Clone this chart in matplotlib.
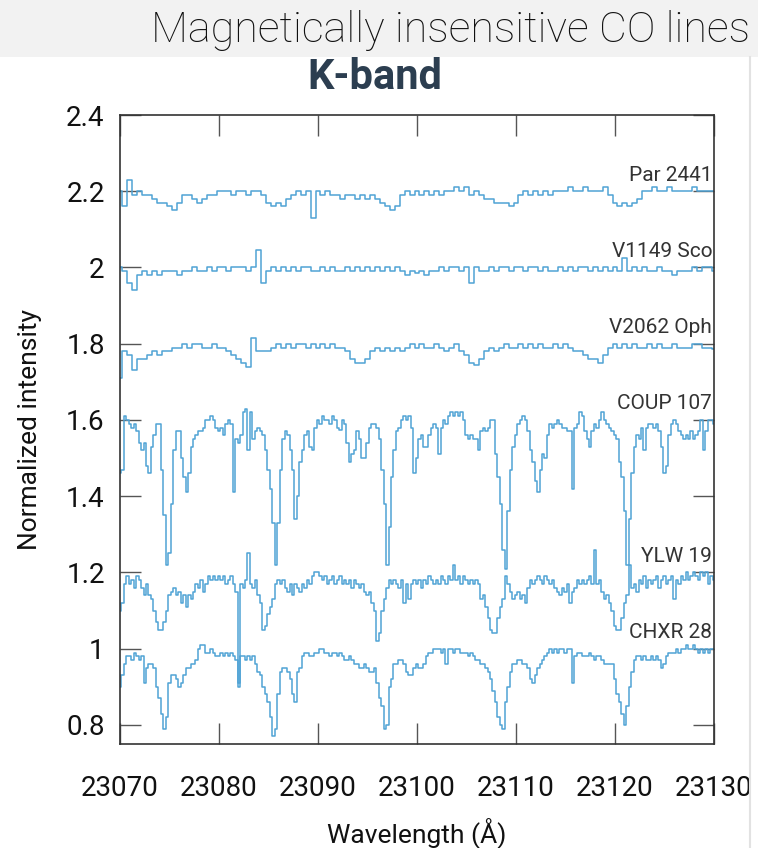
import numpy as np
import matplotlib
matplotlib.use('Agg')
import matplotlib.pyplot as plt
from matplotlib.lines import Line2D
from matplotlib.patches import Rectangle
from matplotlib.ticker import FuncFormatter

plt.rcParams['font.family'] = ['Roboto', 'DejaVu Sans']

# wavelength grids: 0.5 A for the weak-line stars, 0.25 A for the strong-line ones
wave_coarse = np.arange(23070.0, 23130.01, 0.5)
wave_fine = np.arange(23070.0, 23130.001, 0.25)

par_2441 = [
    2.20, 2.16, 2.23, 2.19, 2.20, 2.19, 2.19, 2.18, 2.17, 2.17,
    2.16, 2.15, 2.17, 2.19, 2.19, 2.18, 2.17, 2.18, 2.19, 2.19,
    2.20, 2.20, 2.20, 2.19, 2.20, 2.20, 2.19, 2.20, 2.20, 2.19,
    2.17, 2.16, 2.17, 2.16, 2.18, 2.19, 2.20, 2.19, 2.20, 2.13,
    2.20, 2.19, 2.20, 2.19, 2.19, 2.18, 2.19, 2.19, 2.18, 2.19,
    2.18, 2.19, 2.18, 2.17, 2.16, 2.15, 2.16, 2.19, 2.20, 2.19,
    2.20, 2.19, 2.20, 2.19, 2.20, 2.19, 2.20, 2.20, 2.21, 2.20,
    2.21, 2.19, 2.20, 2.19, 2.18, 2.18, 2.17, 2.17, 2.17, 2.16,
    2.17, 2.19, 2.20, 2.19, 2.20, 2.19, 2.20, 2.19, 2.20, 2.20,
    2.20, 2.21, 2.20, 2.20, 2.21, 2.20, 2.20, 2.20, 2.21, 2.19,
    2.17, 2.16, 2.17, 2.16, 2.17, 2.18, 2.20, 2.20, 2.21, 2.20,
    2.20, 2.21, 2.20, 2.20, 2.20, 2.20, 2.21, 2.20, 2.20, 2.20,
    2.20,
]

v1149_sco = [
    2.00, 1.99, 1.96, 1.94, 1.98, 1.99, 1.98, 1.99, 1.98, 1.99,
    1.99, 1.99, 1.98, 1.99, 1.99, 2.00, 1.99, 1.99, 2.00, 1.99,
    2.00, 2.00, 1.99, 2.00, 2.00, 2.00, 1.99, 2.00, 2.045, 1.96,
    1.99, 2.00, 1.99, 2.00, 1.99, 2.00, 1.99, 2.00, 2.00, 1.99,
    1.99, 2.00, 1.99, 2.00, 1.99, 1.99, 2.00, 1.99, 2.00, 1.99,
    2.00, 1.99, 2.00, 1.99, 2.00, 1.99, 2.00, 1.99, 1.98, 1.99,
    1.985, 1.99, 1.98, 1.99, 1.99, 2.00, 1.99, 2.00, 2.00, 1.99,
    2.00, 1.96, 2.00, 1.99, 1.99, 2.00, 1.99, 2.00, 2.00, 1.99,
    2.00, 2.00, 1.99, 2.00, 2.00, 1.99, 2.00, 1.99, 1.99, 2.00,
    1.99, 2.00, 1.99, 2.00, 2.00, 1.99, 2.00, 1.99, 2.00, 1.99,
    2.00, 1.99, 2.025, 1.99, 2.00, 1.99, 2.00, 1.99, 1.99, 2.00,
    1.99, 1.99, 1.98, 1.99, 1.99, 1.99, 2.00, 1.99, 2.00, 2.00,
    1.99,
]

v2062_oph = [
    1.71, 1.78, 1.77, 1.73, 1.76, 1.76, 1.77, 1.78, 1.77, 1.78,
    1.78, 1.79, 1.79, 1.80, 1.79, 1.80, 1.80, 1.79, 1.79, 1.80,
    1.79, 1.79, 1.78, 1.77, 1.76, 1.75, 1.74, 1.815, 1.78, 1.78,
    1.78, 1.79, 1.80, 1.79, 1.80, 1.79, 1.80, 1.80, 1.79, 1.80,
    1.79, 1.80, 1.79, 1.80, 1.79, 1.79, 1.78, 1.76, 1.75, 1.75,
    1.76, 1.78, 1.79, 1.78, 1.79, 1.78, 1.79, 1.78, 1.79, 1.80,
    1.79, 1.80, 1.79, 1.79, 1.80, 1.79, 1.78, 1.79, 1.80, 1.78,
    1.77, 1.75, 1.745, 1.76, 1.78, 1.79, 1.78, 1.79, 1.80, 1.79,
    1.79, 1.80, 1.79, 1.80, 1.79, 1.80, 1.79, 1.79, 1.80, 1.79,
    1.80, 1.79, 1.78, 1.78, 1.77, 1.76, 1.76, 1.75, 1.77, 1.79,
    1.80, 1.79, 1.80, 1.79, 1.80, 1.79, 1.79, 1.80, 1.79, 1.80,
    1.79, 1.79, 1.80, 1.79, 1.79, 1.79, 1.80, 1.80, 1.79, 1.79,
    1.785,
]

# one row = 2 A
coup_107 = [
    1.46, 1.47, 1.61, 1.60, 1.59, 1.58, 1.59, 1.57,
    1.54, 1.52, 1.54, 1.48, 1.46, 1.53, 1.56, 1.59,
    1.59, 1.47, 1.35, 1.22, 1.25, 1.38, 1.52, 1.57,
    1.57, 1.50, 1.45, 1.41, 1.46, 1.53, 1.55, 1.56,
    1.57, 1.57, 1.58, 1.60, 1.60, 1.61, 1.60, 1.58,
    1.57, 1.58, 1.56, 1.59, 1.60, 1.59, 1.41, 1.55,
    1.54, 1.56, 1.62, 1.63, 1.52, 1.62, 1.55, 1.57,
    1.58, 1.57, 1.56, 1.52, 1.47, 1.42, 1.33, 1.22,
    1.33, 1.47, 1.55, 1.57, 1.56, 1.52, 1.47, 1.34,
    1.40, 1.49, 1.52, 1.56, 1.57, 1.53, 1.52, 1.58,
    1.60, 1.59, 1.61, 1.60, 1.60, 1.59, 1.61, 1.60,
    1.58, 1.575, 1.60, 1.59, 1.54, 1.49, 1.51, 1.52,
    1.57, 1.55, 1.50, 1.50, 1.54, 1.58, 1.59, 1.59,
    1.58, 1.55, 1.47, 1.38, 1.22, 1.32, 1.45, 1.52,
    1.57, 1.58, 1.60, 1.61, 1.60, 1.61, 1.58, 1.46,
    1.50, 1.55, 1.56, 1.53, 1.53, 1.56, 1.58, 1.59,
    1.58, 1.51, 1.58, 1.60, 1.59, 1.61, 1.62, 1.61,
    1.62, 1.61, 1.62, 1.60, 1.56, 1.55, 1.56, 1.55,
    1.55, 1.52, 1.57, 1.58, 1.57, 1.58, 1.60, 1.60,
    1.51, 1.45, 1.38, 1.26, 1.21, 1.36, 1.47, 1.53,
    1.56, 1.59, 1.60, 1.61, 1.60, 1.57, 1.52, 1.49,
    1.44, 1.41, 1.47, 1.51, 1.50, 1.56, 1.59, 1.58,
    1.59, 1.60, 1.59, 1.58, 1.58, 1.57, 1.57, 1.42,
    1.58, 1.59, 1.62, 1.61, 1.57, 1.55, 1.53, 1.57,
    1.59, 1.58, 1.60, 1.62, 1.60, 1.59, 1.58, 1.57,
    1.56, 1.55, 1.49, 1.45, 1.36, 1.22, 1.34, 1.46,
    1.53, 1.56, 1.55, 1.58, 1.52, 1.58, 1.59, 1.59,
    1.58, 1.59, 1.57, 1.53, 1.46, 1.48, 1.56, 1.59,
    1.60, 1.59, 1.57, 1.56, 1.55, 1.56, 1.55, 1.57,
    1.55, 1.56, 1.57, 1.60, 1.52, 1.57, 1.60, 1.60,
    1.59,
]

ylw_19 = [
    1.10, 1.12, 1.17, 1.19, 1.17, 1.18, 1.16, 1.19,
    1.18, 1.16, 1.14, 1.17, 1.14, 1.13, 1.10, 1.07,
    1.05, 1.05, 1.07, 1.10, 1.14, 1.15, 1.16, 1.14,
    1.15, 1.12, 1.14, 1.11, 1.14, 1.13, 1.15, 1.17,
    1.16, 1.18, 1.15, 1.17, 1.19, 1.18, 1.19, 1.18,
    1.19, 1.18, 1.19, 1.17, 1.18, 1.19, 1.17, 1.15,
    0.91, 1.17, 1.16, 1.18, 1.25, 1.17, 1.16, 1.18,
    1.14, 1.12, 1.05, 1.06, 1.09, 1.11, 1.13, 1.17,
    1.18, 1.17, 1.18, 1.16, 1.15, 1.17, 1.14, 1.17,
    1.16, 1.15, 1.17, 1.16, 1.18, 1.17, 1.19, 1.20,
    1.20, 1.19, 1.18, 1.19, 1.17, 1.18, 1.19, 1.17,
    1.18, 1.19, 1.17, 1.18, 1.17, 1.18, 1.16, 1.18,
    1.17, 1.16, 1.17, 1.15, 1.14, 1.15, 1.12, 1.10,
    1.02, 1.04, 1.10, 1.13, 1.16, 1.18, 1.17, 1.18,
    1.17, 1.16, 1.18, 1.12, 1.17, 1.13, 1.17, 1.18,
    1.17, 1.18, 1.16, 1.18, 1.17, 1.19, 1.18, 1.17,
    1.18, 1.17, 1.19, 1.18, 1.17, 1.19, 1.18, 1.22,
    1.18, 1.19, 1.17, 1.19, 1.18, 1.17, 1.18, 1.17,
    1.18, 1.17, 1.13, 1.14, 1.11, 1.08, 1.05, 1.04,
    1.04, 1.08, 1.11, 1.13, 1.19, 1.17, 1.15, 1.13,
    1.14, 1.15, 1.13, 1.14, 1.12, 1.16, 1.18, 1.17,
    1.18, 1.19, 1.18, 1.17, 1.19, 1.18, 1.17, 1.18,
    1.16, 1.15, 1.14, 1.16, 1.15, 1.17, 1.12, 1.15,
    1.16, 1.18, 1.17, 1.18, 1.17, 1.18, 1.19, 1.17,
    1.26, 1.17, 1.18, 1.15, 1.13, 1.14, 1.12, 1.10,
    1.06, 1.05, 1.05, 1.08, 1.12, 1.14, 1.22, 1.16,
    1.17, 1.15, 1.18, 1.17, 1.19, 1.16, 1.18, 1.17,
    1.18, 1.19, 1.16, 1.18, 1.19, 1.17, 1.18, 1.19,
    1.13, 1.18, 1.17, 1.19, 1.18, 1.20, 1.18, 1.19,
    1.20, 1.19, 1.18, 1.20, 1.19, 1.20, 1.17, 1.19,
    1.18,
]

chxr_28 = [
    0.90, 0.93, 0.96, 0.98, 0.98, 0.97, 0.99, 0.98,
    0.97, 0.98, 0.91, 0.95, 0.96, 0.96, 0.95, 0.90,
    0.87, 0.83, 0.79, 0.82, 0.91, 0.93, 0.93, 0.92,
    0.90, 0.91, 0.93, 0.95, 0.95, 0.96, 0.96, 0.97,
    1.00, 1.01, 1.01, 0.99, 0.99, 1.00, 0.99, 0.98,
    0.98, 0.99, 0.98, 0.99, 0.98, 0.99, 0.98, 0.97,
    0.90, 0.98, 0.98, 0.97, 0.98, 0.97, 0.98, 0.96,
    0.94, 0.93, 0.90, 0.88, 0.86, 0.82, 0.77, 0.79,
    0.88, 0.94, 0.95, 0.95, 0.94, 0.92, 0.88, 0.86,
    0.94, 0.95, 0.98, 0.99, 0.99, 0.98, 0.98, 0.99,
    0.99, 1.00, 1.00, 0.99, 0.99, 0.98, 0.99, 0.99,
    0.98, 0.99, 0.98, 0.97, 0.97, 0.98, 0.97, 0.96,
    0.96, 0.95, 0.95, 0.96, 0.95, 0.94, 0.94, 0.95,
    0.91, 0.87, 0.85, 0.79, 0.80, 0.90, 0.92, 0.96,
    0.96, 0.97, 0.97, 0.96, 0.94, 0.93, 0.93, 0.95,
    0.96, 0.95, 0.95, 0.96, 0.98, 0.99, 0.99, 1.00,
    1.00, 1.00, 0.99, 1.00, 0.96, 1.00, 1.00, 0.99,
    1.00, 1.00, 0.99, 0.99, 0.99, 0.98, 0.99, 0.98,
    0.97, 0.97, 0.96, 0.96, 0.95, 0.94, 0.92, 0.89,
    0.86, 0.82, 0.80, 0.79, 0.86, 0.90, 0.94, 0.96,
    0.96, 0.97, 0.97, 0.96, 0.96, 0.95, 0.92, 0.91,
    0.93, 0.95, 0.96, 0.97, 0.98, 0.99, 1.00, 0.99,
    1.00, 0.99, 1.00, 1.00, 0.99, 1.00, 1.00, 0.91,
    0.98, 0.99, 0.99, 0.98, 0.98, 0.98, 0.99, 0.98,
    0.97, 0.98, 0.98, 0.97, 0.96, 0.96, 0.96, 0.96,
    0.92, 0.88, 0.86, 0.83, 0.80, 0.85, 0.90, 0.94,
    0.97, 0.98, 0.98, 0.97, 0.98, 0.97, 0.97, 0.98,
    0.97, 0.98, 0.97, 0.95, 0.96, 0.98, 0.99, 0.99,
    0.99, 1.00, 0.99, 1.00, 1.00, 1.01, 1.00, 1.00,
    1.01, 1.00, 0.99, 1.00, 0.99, 1.00, 0.99, 1.00,
    1.00,
]

names = ['Par 2441', 'V1149 Sco', 'V2062 Oph', 'COUP 107', 'YLW 19', 'CHXR 28']
offsets = [2.2, 2.0, 1.8, 1.6, 1.2, 1.0]
spectra = [par_2441, v1149_sco, v2062_oph, coup_107, ylw_19, chxr_28]
grids = [wave_coarse, wave_coarse, wave_coarse, wave_fine, wave_fine, wave_fine]

line_color = '#4fa3d5'

fig = plt.figure(figsize=(7.58, 8.48), dpi=100)

# header band
fig.add_artist(Rectangle((0, 1 - 57 / 848), 1, 57 / 848, transform=fig.transFigure,
                         facecolor='#f2f2f2', edgecolor='none', zorder=0))
fig.add_artist(Line2D([750 / 758, 750 / 758], [0, 1 - 57 / 848], transform=fig.transFigure,
                      color='#e2e2e2', lw=1.5))
fig.text(750 / 758, 1 - 42 / 848, 'Magnetically insensitive CO lines', ha='right', va='baseline',
         fontsize=31, fontweight='light', color='#111111')
fig.text(375 / 758, 1 - 89 / 848, 'K-band', ha='center', va='baseline',
         fontsize=30, fontweight='bold', color='#2c3e50')

ax = fig.add_axes([120 / 758, 1 - 744 / 848, 594 / 758, 629 / 848])

for name, off, w, flux in zip(names, offsets, grids, spectra):
    ax.plot(w, flux, drawstyle='steps-mid', color=line_color, lw=1.1)
    ax.text(0.997, off + 0.042, name, transform=ax.get_yaxis_transform(),
            ha='right', va='center', fontsize=15, color='#333333')

ax.set_xlim(23070, 23130)
ax.set_ylim(0.75, 2.4)
ax.set_xticks(np.arange(23070, 23131, 10))
ax.set_yticks(np.arange(0.8, 2.41, 0.2))
ax.yaxis.set_major_formatter(FuncFormatter(lambda v, p: '%g' % round(v, 1)))
ax.xaxis.set_major_formatter(FuncFormatter(lambda v, p: '%d' % v))

ax.tick_params(direction='in', length=15, width=1, color='#555555',
               top=True, right=True, labelsize=20, labelcolor='#111111')
ax.tick_params(axis='x', pad=22)
ax.tick_params(axis='y', pad=11)
for s in ax.spines.values():
    s.set_linewidth(1.2)
    s.set_color('#333333')

ax.set_xlabel('Wavelength (Å)', fontsize=19, color='#111111', va='baseline')
ax.set_ylabel('Normalized intensity', fontsize=19, color='#111111')
ax.xaxis.set_label_coords(0.5, -0.156)
ax.yaxis.set_label_coords(-0.131, 0.5)

fig.savefig('out.png', dpi=100)
